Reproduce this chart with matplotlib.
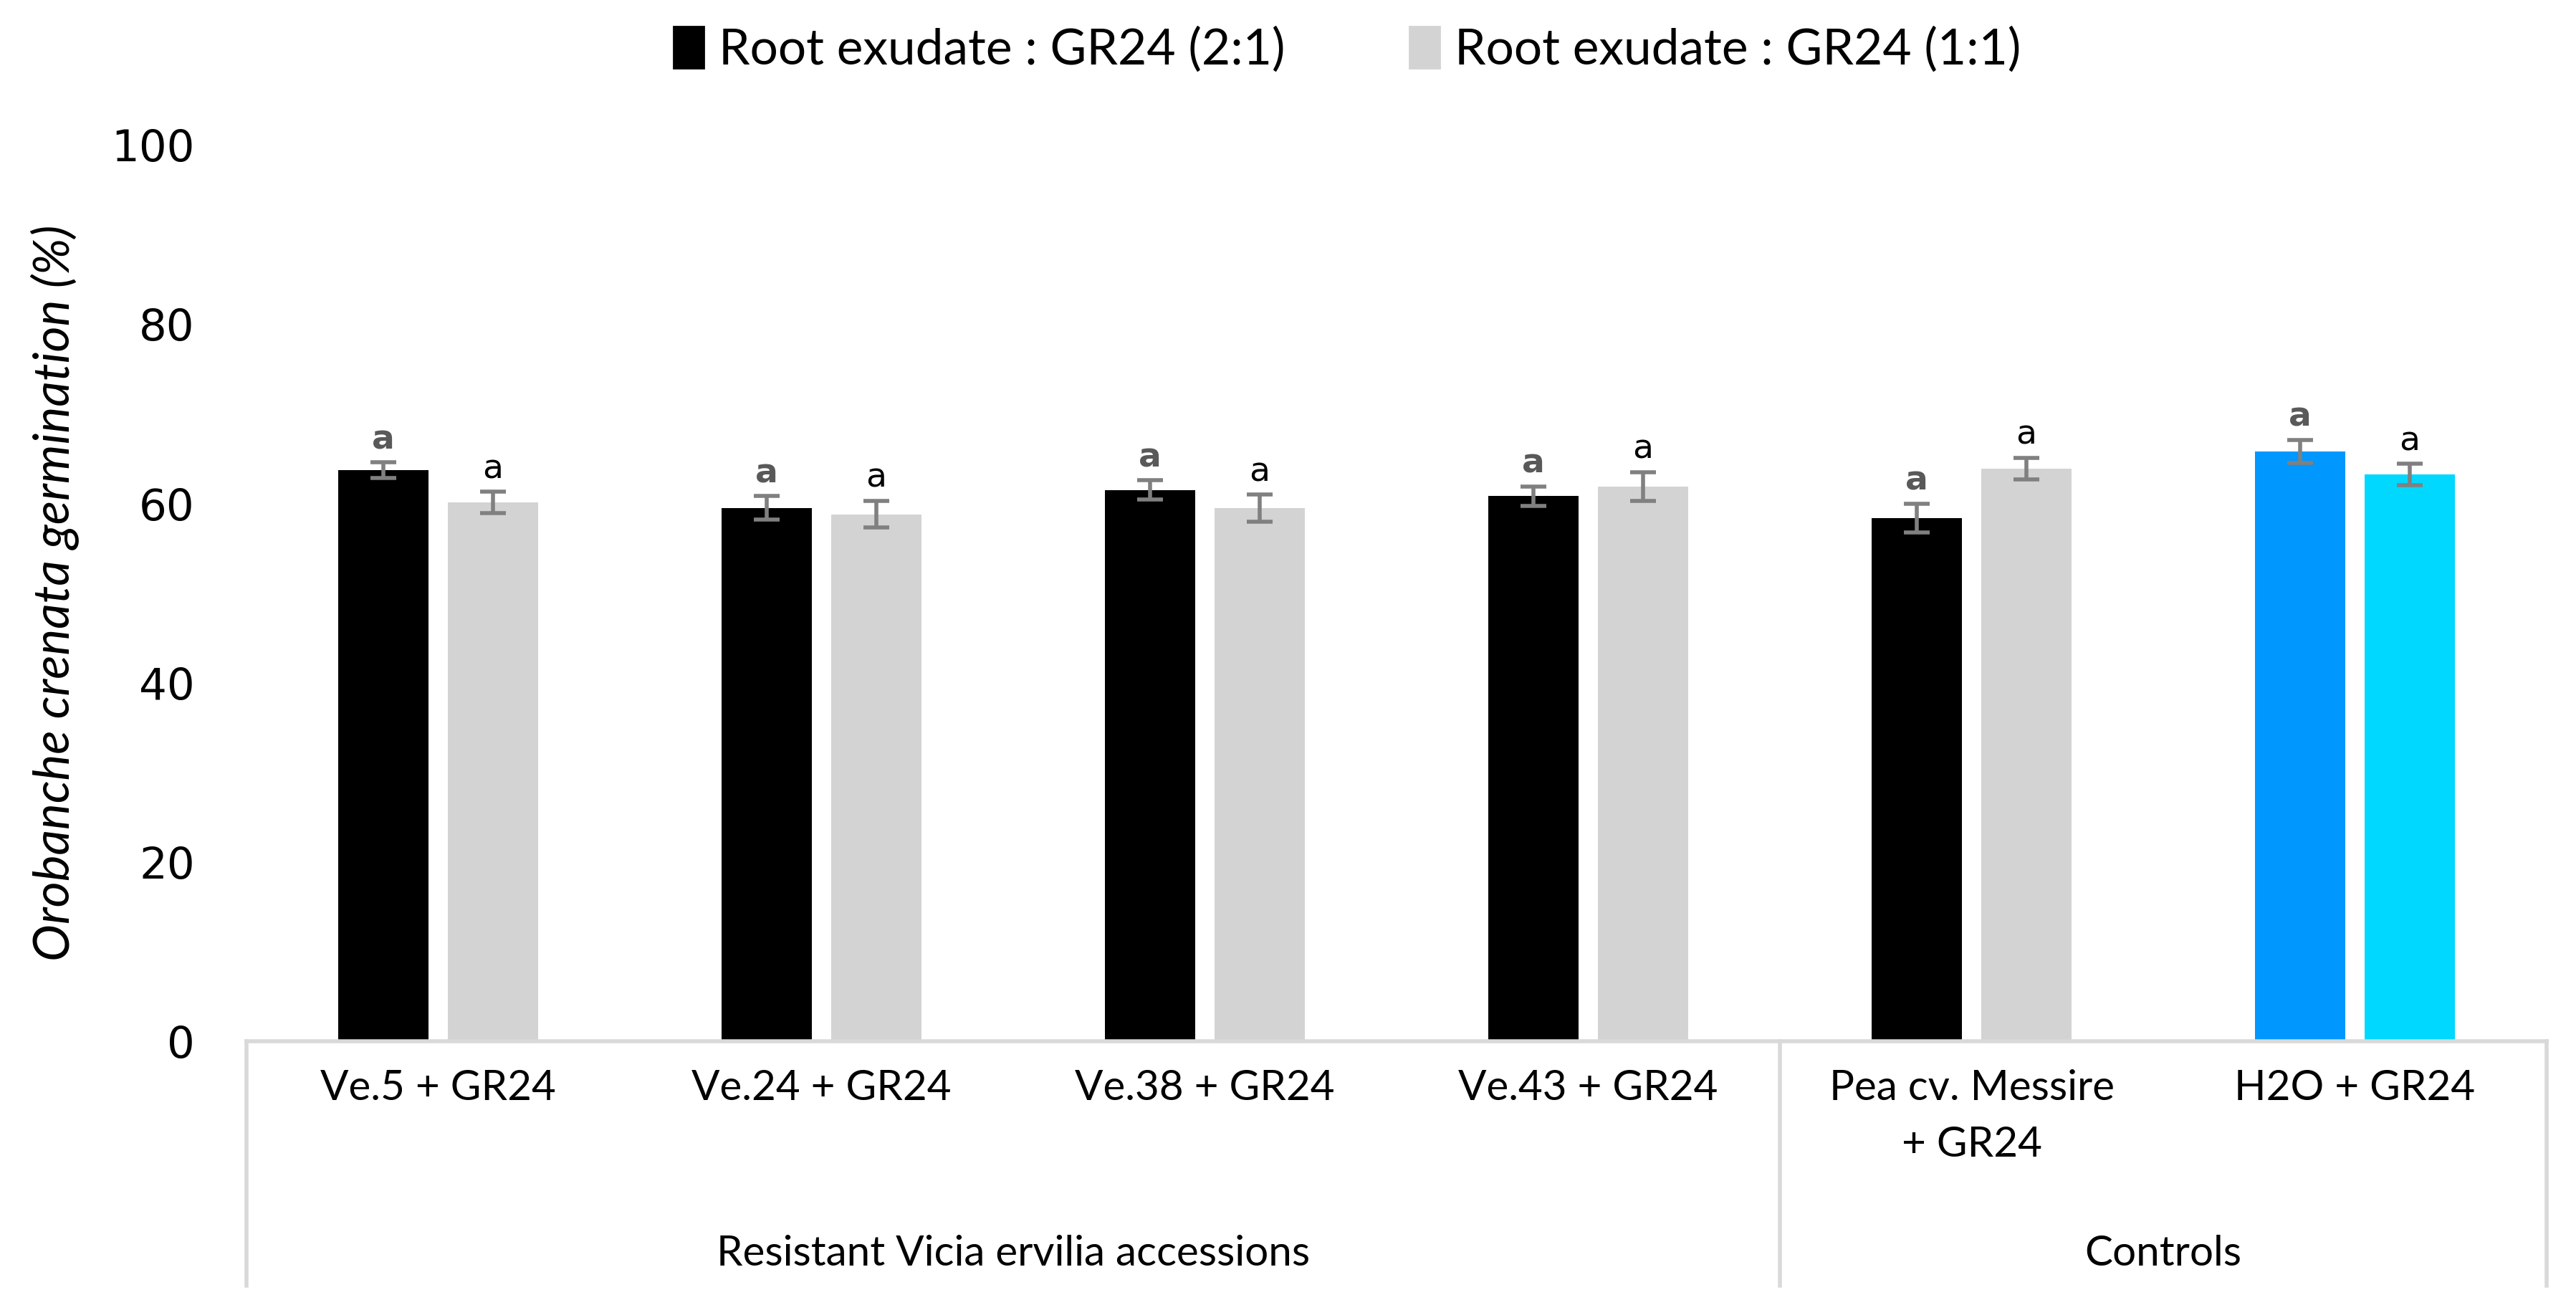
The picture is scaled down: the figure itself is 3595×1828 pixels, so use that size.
import numpy as np
import matplotlib.pyplot as plt

# valores
categorias = ["Ve.5 + GR24", "Ve.24 + GR24", "Ve.38 + GR24", "Ve.43 + GR24",
              "Pea cv. Messire\n+ GR24", "H2O + GR24"]
serie_21 = [63.7, 59.5, 61.5, 60.8, 58.4, 65.8]
err_21 = [0.9, 1.3, 1.1, 1.1, 1.6, 1.3]
serie_11 = [60.1, 58.8, 59.5, 61.9, 63.9, 63.2]
err_11 = [1.2, 1.5, 1.5, 1.6, 1.2, 1.2]
letras_21 = ["a", "a", "a", "a", "a", "a"]
letras_11 = ["a", "a", "a", "a", "a", "a"]
grupos = ["Resistant Vicia ervilia accessions", "Controls"]
limites_grupos = [-0.5, 3.5, 5.5]
leyenda = ["Root exudate : GR24 (2:1)", "Root exudate : GR24 (1:1)"]

colores_21 = ["#000000"] * 5 + ["#0097FF"]
colores_11 = ["#D3D3D3"] * 5 + ["#00D8FF"]

fig = plt.figure(figsize=(17.975, 9.14), dpi=200)
ax = fig.add_axes([0.0957, 0.205, 0.8929, 0.6845])

x = np.arange(len(categorias))
ancho = 0.236
desp = 0.143

ax.bar(x - desp, serie_21, ancho, color=colores_21, zorder=2)
ax.bar(x + desp, serie_11, ancho, color=colores_11, zorder=2)
ax.errorbar(x - desp, serie_21, yerr=err_21, fmt="none", ecolor="#808080",
            elinewidth=2, capsize=6.5, capthick=2, zorder=3)
ax.errorbar(x + desp, serie_11, yerr=err_11, fmt="none", ecolor="#808080",
            elinewidth=2, capsize=6.5, capthick=2, zorder=3)

for i in range(len(x)):
    ax.text(x[i] - desp, serie_21[i] + err_21[i] + 0.7, letras_21[i], ha="center",
            va="bottom", fontsize=17, color="#595959", fontweight="bold",
            family="DejaVu Sans")
    ax.text(x[i] + desp, serie_11[i] + err_11[i] + 0.7, letras_11[i], ha="center",
            va="bottom", fontsize=17, color="black", family="DejaVu Sans")

ax.set_xlim(-0.5, 5.5)
ax.set_ylim(0, 100)
ax.set_yticks([0, 20, 40, 60, 80, 100])
ax.tick_params(axis="y", length=0, labelsize=22, pad=26)
ax.tick_params(axis="x", length=0, pad=14)
ax.set_xticks(x)
ax.set_xticklabels(categorias, fontsize=21, family="Lato", linespacing=1.6, va="top")

for s in ["top", "right", "left"]:
    ax.spines[s].set_visible(False)
ax.spines["bottom"].set_color("#D9D9D9")
ax.spines["bottom"].set_linewidth(2)

# lineas de separacion de grupos bajo el eje
trans = ax.get_xaxis_transform()
for lx in limites_grupos:
    ax.plot([lx, lx], [0, -0.272], transform=trans, color="#D9D9D9", lw=2, clip_on=False)

for k in range(len(grupos)):
    cx = (limites_grupos[k] + limites_grupos[k + 1]) / 2
    ax.text(cx, -0.237, grupos[k], transform=trans, ha="center", va="center",
            fontsize=21, family="Lato")

ax.set_ylabel("Orobanche crenata germination (%)", fontsize=25, style="italic",
              family="Lato", labelpad=16)

h1 = plt.Rectangle((0, 0), 1, 1, color="#000000")
h2 = plt.Rectangle((0, 0), 1, 1, color="#D3D3D3")
fig.legend([h1, h2], leyenda, loc="center", bbox_to_anchor=(0.523, 0.962), ncol=2,
           frameon=False, prop={"family": "Lato", "size": 25}, handlelength=0.6,
           handleheight=0.9, handletextpad=0.3, columnspacing=2.5)

plt.savefig("out.png", dpi=200)
